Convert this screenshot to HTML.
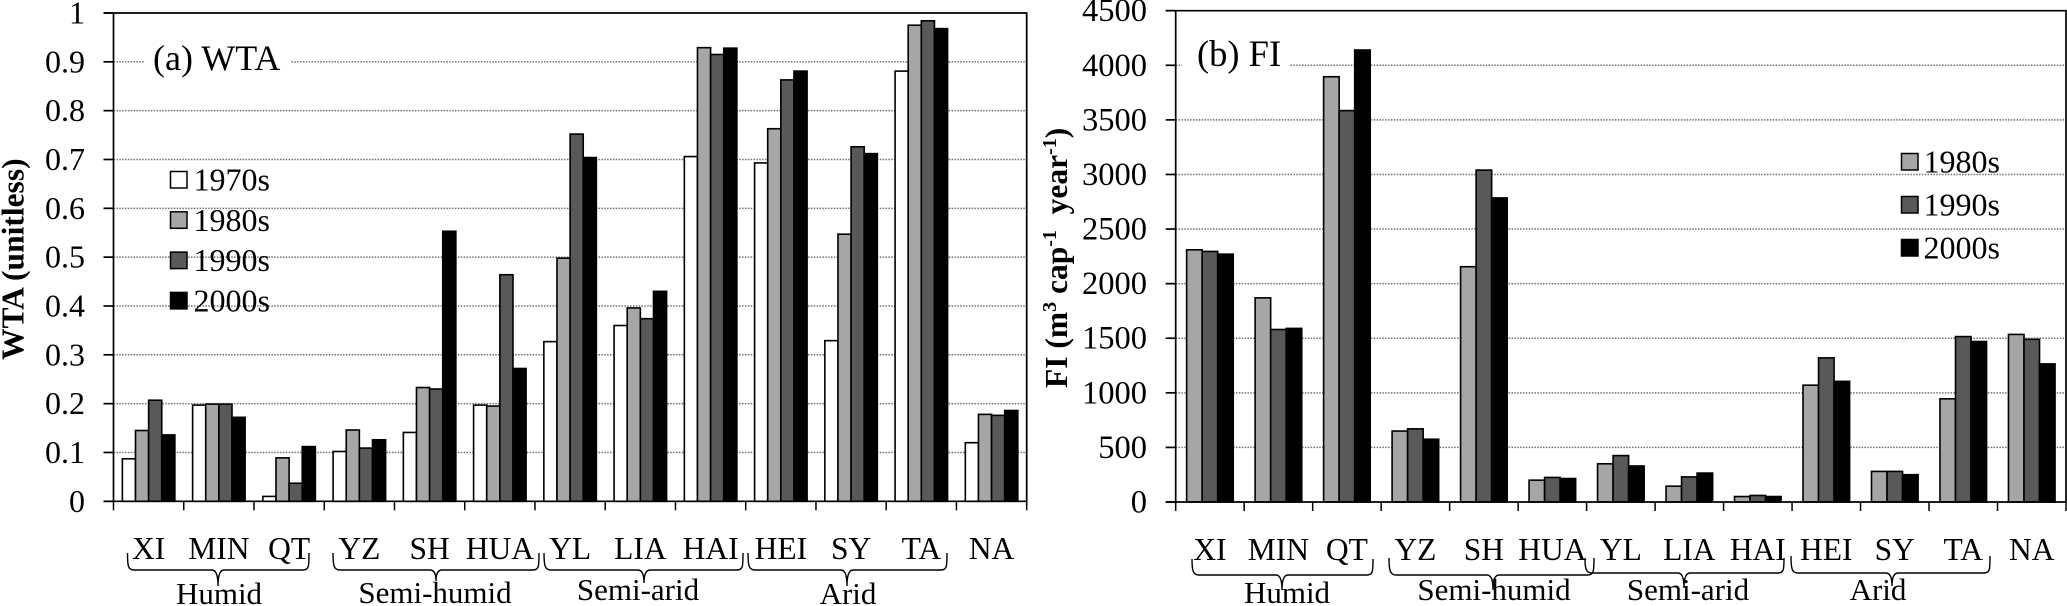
<!DOCTYPE html>
<html lang="en">
<head>
<meta charset="utf-8">
<title>WTA and FI by basin</title>
<style>
html,body{margin:0;padding:0;background:#fff;}
svg{display:block;font-family:"Liberation Serif","Times New Roman",serif;fill:#000;filter:blur(0.35px);}
</style>
</head>
<body>
<svg id="chart" width="2067" height="606" viewBox="0 0 2067 606" xmlns="http://www.w3.org/2000/svg">
  <rect x="0" y="0" width="2067" height="606" fill="#fff"/>
  <g id="panel-a"></g>
  <g id="panel-b"></g>

  <text transform="translate(23.5 360) rotate(-90)" font-size="31.5" font-weight="bold">WTA (unitless)</text>
  <text transform="translate(1067 388) rotate(-90)" font-size="31.5" font-weight="bold" xml:space="preserve">FI (m<tspan font-size="20" dy="-11">3</tspan><tspan dy="11"> cap</tspan><tspan font-size="20" dy="-11">-1</tspan><tspan dy="11">  year</tspan><tspan font-size="20" dy="-11">-1</tspan><tspan dy="11">)</tspan></text>

  <g fill="none" stroke="#000" stroke-width="1.4">
    <path d="M127.5 553C127.5 566 128 570 134 570L212 570Q218 570 218 586Q218 570 224 570L303 570C309 570 309 566 309 553"/>
    <path d="M333 553C333 566 334 570 340 570L430 570Q436 570 436 581Q436 570 442 570L533 570C539 570 539 566 539 553"/>
    <path d="M544 553C544 566 545 570 551 570L638 570Q644 570 644 583Q644 570 650 570L737 570C743 570 743 566 743 553"/>
    <path d="M748 553C748 566 749 570 755 570L841 570Q847 570 847 586Q847 570 853 570L941 570C947 570 947 566 947 553"/>
  </g>
  <g fill="none" stroke="#000" stroke-width="1.4">
    <path d="M1192 559C1192 571 1193 575 1199 575L1276 575Q1282 575 1282 590Q1282 575 1288 575L1367 575C1373 575 1373 571 1373 559"/>
    <path d="M1389 558C1389 570 1390 575 1396 575L1487 575Q1493 575 1493 590Q1493 575 1499 575L1588 575C1594 575 1594 570 1594 558"/>
    <path d="M1585 558C1585 569 1586 573 1592 573L1678 573Q1684 573 1684 588Q1684 573 1690 573L1778 573C1784 573 1784 569 1784 558"/>
    <path d="M1791 556C1791 569 1792 573 1798 573L1886 573Q1892 573 1892 586Q1892 573 1898 573L1984 573C1990 573 1990 569 1990 556"/>
  </g>

  <g font-size="31" text-anchor="middle">
    <text x="219" y="604">Humid</text>
    <text x="435" y="603">Semi-humid</text>
    <text x="638" y="600">Semi-arid</text>
    <text x="848" y="604">Arid</text>
    <text x="1287" y="603">Humid</text>
    <text x="1494" y="600">Semi-humid</text>
    <text x="1688" y="600">Semi-arid</text>
    <text x="1878" y="600">Arid</text>
  </g>

  <rect x="145" y="40" width="146" height="40" fill="#fff"/>
  <text x="153" y="70" font-size="36">(a) WTA</text>
  <rect x="1182" y="40" width="107" height="36" fill="#fff"/>
  <text x="1197" y="66" font-size="36.5">(b) FI</text>

  <g id="legend-a"></g>
  <g id="legend-b"></g>
</svg>
<script>
const categories = ['XI','MIN','QT','YZ','SH','HUA','YL','LIA','HAI','HEI','SY','TA','NA'];

const wtaTicks = [0,0.1,0.2,0.3,0.4,0.5,0.6,0.7,0.8,0.9,1];
const wtaSeriesNames = ['1970s','1980s','1990s','2000s'];
const wta1970s = [0.087,0.197,0.010,0.102,0.141,0.197,0.327,0.360,0.706,0.693,0.329,0.881,0.120];
const wta1980s = [0.145,0.199,0.089,0.146,0.233,0.195,0.498,0.396,0.929,0.763,0.547,0.975,0.178];
const wta1990s = [0.207,0.199,0.037,0.109,0.230,0.464,0.752,0.374,0.915,0.863,0.726,0.984,0.176];
const wta2000s = [0.136,0.172,0.112,0.126,0.553,0.272,0.704,0.430,0.928,0.881,0.712,0.968,0.186];

const fiTicks = [0,500,1000,1500,2000,2500,3000,3500,4000,4500];
const fiSeriesNames = ['1980s','1990s','2000s'];
const fi1980s = [2310,1870,3895,650,2155,200,350,145,50,1070,280,945,1535];
const fi1990s = [2295,1580,3585,670,3040,225,425,230,60,1320,280,1515,1490];
const fi2000s = [2270,1590,4140,575,2785,215,330,265,50,1105,250,1470,1265];

const seriesFill = {'1970s':'#ffffff','1980s':'#a6a6a6','1990s':'#595959','2000s':'#000000'};
const NS = 'http://www.w3.org/2000/svg';

function make(parent, tag, attrs, text) {
  const el = document.createElementNS(NS, tag);
  for (const k in attrs) el.setAttribute(k, attrs[k]);
  if (text !== undefined) el.textContent = text;
  parent.appendChild(el);
  return el;
}

function drawPanel(cfg) {
  const root = document.getElementById(cfg.id);
  const yMax = cfg.ticks[cfg.ticks.length - 1];
  const yScale = function (v) { return cfg.bottom - (v / yMax) * (cfg.bottom - cfg.top); };
  const band = (cfg.right - cfg.left) / categories.length;
  const xBand = function (i) { return cfg.left + i * band; };
  const barW = cfg.groupWidth / cfg.series.length;

  cfg.ticks.forEach(function (t) {
    const y = yScale(t);
    if (t !== 0 && t !== yMax) {
      const grid = make(root, 'line', {x1: cfg.left, x2: cfg.right, y1: y, y2: y, stroke: '#707070', 'stroke-width': 1.5, 'stroke-dasharray': '1.5 1.37'});
      
      
    }
    const tick = make(root, 'line', {x1: cfg.left - 10, x2: cfg.left, y1: y, y2: y, stroke: '#000', 'stroke-width': 1.7});
    
    
    const label = make(root, 'text', {x: cfg.tickLabelX, y: y + 10.5, 'font-size': cfg.tickFont, 'text-anchor': 'end'}, String(t));
    
    
  });

  categories.forEach(function (name, i) {
    const start = xBand(i) + (band - cfg.groupWidth) / 2;
    cfg.series.forEach(function (s, j) {
      const v = s.values[i];
      const bar = make(root, 'rect', {x: start + j * barW, y: yScale(v), width: barW, height: cfg.bottom - yScale(v), fill: seriesFill[s.name], stroke: '#000', 'stroke-width': 1.6});
      
      
    });
    const lab = make(root, 'text', {x: xBand(i) + band / 2, y: cfg.catLabelY, 'font-size': 31.5, 'text-anchor': 'middle'}, name);
    
    
  });

  for (let i = 0; i <= categories.length; i++) {
    const xt = make(root, 'line', {x1: xBand(i), x2: xBand(i), y1: cfg.bottom, y2: cfg.bottom + 9, stroke: '#000', 'stroke-width': 1.5});
    
    
  }

  const frame = make(root, 'path', {d: 'M' + (cfg.left - 10) + ' ' + cfg.top + 'H' + cfg.right + 'V' + cfg.bottom + 'H' + (cfg.left - 10) + 'M' + cfg.left + ' ' + cfg.top + 'V' + cfg.bottom, fill: 'none', stroke: '#000', 'stroke-width': 1.7});
  
  
}

function drawLegend(id, names, swatchX, rowTops, textEnd, rowBase) {
  const root = document.getElementById(id);
  names.forEach(function (name, i) {
    const sw = make(root, 'rect', {x: swatchX, y: rowTops + i * rowBase, width: 16.5, height: 16.5, fill: seriesFill[name], stroke: '#000', 'stroke-width': 1.5});
    
    
    const tx = make(root, 'text', {x: textEnd, y: rowTops + i * rowBase + 19, 'font-size': 32, 'text-anchor': 'end'}, name);
    
    
  });
}

drawPanel({
  id: 'panel-a', left: 113.5, right: 1026.7, top: 13, bottom: 501.3, ticks: wtaTicks,
  tickLabelX: 85, tickFont: 32, catLabelY: 559, groupWidth: 52.5,
  series: [
    {name: wtaSeriesNames[0], values: wta1970s},
    {name: wtaSeriesNames[1], values: wta1980s},
    {name: wtaSeriesNames[2], values: wta1990s},
    {name: wtaSeriesNames[3], values: wta2000s}
  ]
});
drawPanel({
  id: 'panel-b', left: 1175.7, right: 2066, top: 10.7, bottom: 502, ticks: fiTicks,
  tickLabelX: 1147, tickFont: 32.5, catLabelY: 560, groupWidth: 46.6,
  series: [
    {name: fiSeriesNames[0], values: fi1980s},
    {name: fiSeriesNames[1], values: fi1990s},
    {name: fiSeriesNames[2], values: fi2000s}
  ]
});
drawLegend('legend-a', wtaSeriesNames, 170.5, 171.5, 270, 40.3);
drawLegend('legend-b', fiSeriesNames, 1901.5, 153.5, 2000, 43);
</script>
</body>
</html>
